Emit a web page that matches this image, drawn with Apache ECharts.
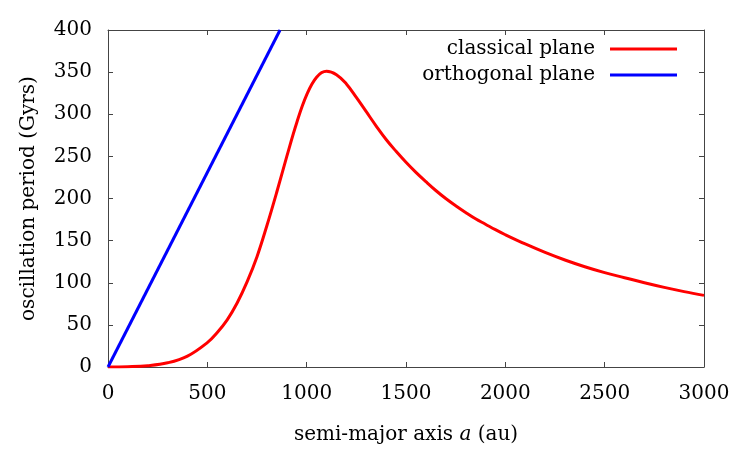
<!DOCTYPE html>
<html>
<head>
<meta charset="utf-8">
<script src="https://cdn.jsdelivr.net/npm/echarts@6/dist/echarts.min.js"></script>
<style>html,body{margin:0;padding:0;background:#fff;}#c{width:750px;height:450px;}</style>
</head>
<body>
<div id="c"></div>
<script>
const classicalA = [0,100,200,300,400,500,550,600,650,700,750,800,850,900,950,1000,1050,1100,1150,1200,1250,1300,1350,1400,1450,1500,1550,1600,1650,1700,1750,1800,1850,1900,1950,2000,2100,2200,2300,2400,2500,2600,2700,2800,2900,3000];
const classicalP = [0,0.3,1.5,5,13,29,41,56,76,101,131,168,208,250,290,323,344,351,347,336,320,303,286,270,256,243,231,220,209.5,200,191.5,183.5,176,169.5,163,157,146,136,127,119,112,106,100,94.5,89.5,85];
const orthogonalA = [0,866];
const orthogonalP = [0,400];
const xTicks = {min:0, max:3000, interval:500};
const yTicks = {min:0, max:400, interval:50};

const serif = '"DejaVu Serif", "Liberation Serif", serif';
const axisCol = '#444';
const fs = 20;
const chart = echarts.init(document.getElementById('c'));
const pair = (a,b) => a.map((v,i)=>[v,b[i]]);
const mkAxis = (extra) => Object.assign({
  axisLine:{show:true, onZero:false, lineStyle:{color:axisCol, width:1}},
  axisTick:{show:true, inside:true, length:5, lineStyle:{color:axisCol}},
  splitLine:{show:false}
}, extra);
const lbl = (m) => ({fontFamily:serif, fontSize:fs, color:'#000', margin:m, formatter:(v)=>String(v)});
chart.setOption({
  animation:false,
  grid:{left:108, right:46, top:30, bottom:81, containLabel:false},
  legend:{
    right:68, top:34, orient:'vertical', align:'right',
    itemWidth:67, itemHeight:14, itemGap:6,
    textStyle:{fontFamily:serif, fontSize:fs, color:'#000', padding:[0,10,0,0]},
    data:[
      {name:'classical plane', icon:'path://M0,0H67V3H0Z'},
      {name:'orthogonal plane', icon:'path://M0,0H67V3H0Z'}
    ]
  },
  xAxis:[
    mkAxis({type:'value', position:'bottom', min:xTicks.min, max:xTicks.max, interval:xTicks.interval,
      name:'semi-major axis {i|a} (au)', nameLocation:'middle', nameGap:58,
      nameTextStyle:{fontFamily:serif, fontSize:fs, color:'#000', rich:{i:{fontFamily:serif, fontStyle:'italic', fontSize:fs, color:'#000'}}},
      axisLabel:lbl(17)}),
    mkAxis({type:'value', position:'top', min:xTicks.min, max:xTicks.max, interval:xTicks.interval,
      axisLabel:{show:false}})
  ],
  yAxis:[
    mkAxis({type:'value', position:'left', min:yTicks.min, max:yTicks.max, interval:yTicks.interval,
      name:'oscillation period (Gyrs)', nameLocation:'middle', nameGap:69,
      nameTextStyle:{fontFamily:serif, fontSize:fs, color:'#000'},
      axisLabel:lbl(16)}),
    mkAxis({type:'value', position:'right', min:yTicks.min, max:yTicks.max, interval:yTicks.interval,
      axisLabel:{show:false}})
  ],
  series:[
    {name:'classical plane', type:'line', xAxisIndex:0, yAxisIndex:0, data:pair(classicalA, classicalP), smooth:0.4, symbol:'none',
     lineStyle:{color:'#ff0000', width:3}, itemStyle:{color:'#ff0000'}, clip:true},
    {name:'orthogonal plane', type:'line', xAxisIndex:0, yAxisIndex:0, data:pair(orthogonalA, orthogonalP), symbol:'none',
     lineStyle:{color:'#0000ff', width:3}, itemStyle:{color:'#0000ff'}, clip:true}
  ]
});
</script>
</body>
</html>
